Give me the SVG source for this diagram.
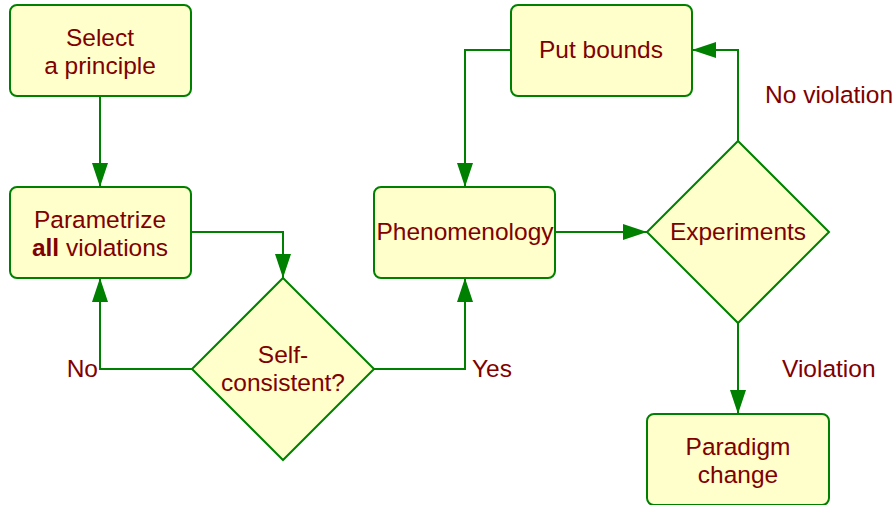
<svg xmlns="http://www.w3.org/2000/svg" width="896" height="505" viewBox="0 0 896 505">
<style>
.box{fill:#ffffcc;stroke:#008000;stroke-width:2}
.t{font-family:"Liberation Sans",Arial,sans-serif;font-size:24.5px;fill:#800000;text-anchor:middle}
.l{font-family:"Liberation Sans",Arial,sans-serif;font-size:24.5px;fill:#800000}
.c{fill:none;stroke:#008000;stroke-width:2}
</style>
<defs>
<marker id="ah" viewBox="0 0 24 16" refX="24" refY="8" markerWidth="24" markerHeight="16" markerUnits="userSpaceOnUse" orient="auto">
<path d="M0,0 L24,8 L0,16 z" fill="#008000"/>
</marker>
</defs>
<rect width="896" height="505" fill="#ffffff"/>
<g id="connectors">
<path class="c" d="M100,96 V187" marker-end="url(#ah)"/>
<path class="c" d="M191,232 H283 V278" marker-end="url(#ah)"/>
<path class="c" d="M192,369 H100 V278" marker-end="url(#ah)"/>
<path class="c" d="M374,369 H465 V278" marker-end="url(#ah)"/>
<path class="c" d="M556,232 H647" marker-end="url(#ah)"/>
<path class="c" d="M738,141 V50 H692" marker-end="url(#ah)"/>
<path class="c" d="M510,50 H465 V187" marker-end="url(#ah)"/>
<path class="c" d="M738,323 V414" marker-end="url(#ah)"/>
<text class="l" x="98" y="377" text-anchor="end">No</text>
<text class="l" x="472" y="377">Yes</text>
<text class="l" x="765" y="103">No violation</text>
<text class="l" x="782" y="377">Violation</text>
</g>
<g id="select">
<rect class="box" x="10" y="5" width="181" height="91" rx="7"/>
<text class="t" x="100" y="46">Select</text>
<text class="t" x="100" y="74">a principle</text>
</g>
<g id="parametrize">
<rect class="box" x="10" y="187" width="181" height="91" rx="7"/>
<text class="t" x="100" y="228">Parametrize</text>
<text class="t" x="100" y="256"><tspan font-weight="bold">all</tspan> violations</text>
</g>
<g id="selfconsistent">
<path class="box" d="M283,278 L374,369 L283,460 L192,369 Z"/>
<text class="t" x="283" y="363">Self-</text>
<text class="t" x="283" y="391">consistent?</text>
</g>
<g id="phenomenology">
<rect class="box" x="374" y="187" width="181" height="91" rx="7"/>
<text class="t" x="465" y="240">Phenomenology</text>
</g>
<g id="putbounds">
<rect class="box" x="511" y="5" width="181" height="91" rx="7"/>
<text class="t" x="601" y="58">Put bounds</text>
</g>
<g id="experiments">
<path class="box" d="M738,141 L829,232 L738,323 L647,232 Z"/>
<text class="t" x="738" y="240">Experiments</text>
</g>
<g id="paradigm">
<rect class="box" x="647" y="414" width="182" height="91" rx="7"/>
<text class="t" x="738" y="455">Paradigm</text>
<text class="t" x="738" y="483">change</text>
</g>
</svg>
